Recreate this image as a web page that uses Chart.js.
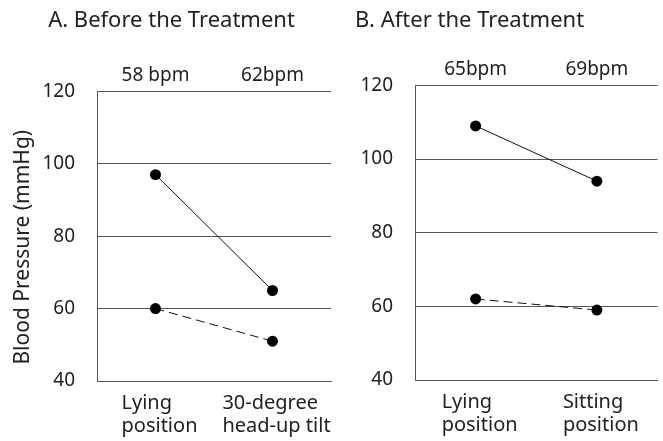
<!DOCTYPE html>
<html><head><meta charset="utf-8">
<script src="https://cdn.jsdelivr.net/npm/chart.js@4"></script>
<style>
html,body{margin:0;padding:0;background:#fff;}
#wrap{position:relative;width:663px;height:441px;overflow:hidden;}
#ca{position:absolute;left:0;top:0;}
#cb{position:absolute;left:355px;top:0;}
</style></head><body>
<div id="wrap">
<canvas id="ca" width="340" height="441" style="width:340px;height:441px"></canvas>
<canvas id="cb" width="308" height="441" style="width:308px;height:441px"></canvas>
</div>
<script>
const categoriesA = [['Lying', 'position'], ['30-degree', 'head-up tilt']];
const heartRateA = ['58 bpm', '62bpm'];
const systolicA = [97, 65];
const diastolicA = [60, 51];

const categoriesB = [['Lying', 'position'], ['Sitting', 'position']];
const heartRateB = ['65bpm', '69bpm'];
const systolicB = [109, 94];
const diastolicB = [62, 59];

const yMin = 40, yMax = 120, yStep = 20;
const yAxisTitle = 'Blood Pressure (mmHg)';

const FONT = '"Noto Sans", sans-serif';
const TXT = '#222';
const GRID = '#555';
const TICK_SIZE = 19;
const CAT_SIZE = 20;

// draws multi-line category labels as left-aligned blocks centred on each category,
// and the rotated y-axis title
const extraText = {
  id: 'extraText',
  afterDraw(chart, args, opts) {
    const sc = chart.scales.x;
    const ctx = chart.ctx;
    ctx.save();
    ctx.font = CAT_SIZE + 'px ' + FONT;
    ctx.fillStyle = TXT;
    ctx.textAlign = 'left';
    ctx.textBaseline = 'top';
    chart.data.labels.forEach((lines, i) => {
      const arr = Array.isArray(lines) ? lines : [lines];
      const w = Math.max(...arr.map(t => ctx.measureText(t).width));
      const x0 = sc.getPixelForTick(i) - w / 2 + 4;
      arr.forEach((t, j) => ctx.fillText(t, x0, sc.top + 12 + j * 23));
    });
    if (opts.yTitle) {
      const ys = chart.scales.y;
      ctx.font = '21px ' + FONT;
      ctx.textAlign = 'center';
      ctx.textBaseline = 'middle';
      ctx.translate(23, (ys.top + ys.bottom) / 2 + 11);
      ctx.rotate(-Math.PI / 2);
      ctx.fillText(opts.yTitle, 0, 0);
    }
    ctx.restore();
  }
};

function makeChart(id, title, cats, hr, sys, dia, cfg) {
  return new Chart(document.getElementById(id), {
    type: 'line',
    data: {
      labels: cats,
      datasets: [
        { data: sys, borderColor: '#111', borderWidth: 1, pointRadius: 5.5, pointBackgroundColor: '#000', pointBorderColor: '#000', pointBorderWidth: 0, pointHoverRadius: 5.5, xAxisID: 'x', yAxisID: 'y' },
        { data: dia, borderColor: '#111', borderWidth: 1, borderDash: [9, 5], pointRadius: 5.5, pointBackgroundColor: '#000', pointBorderColor: '#000', pointBorderWidth: 0, pointHoverRadius: 5.5, xAxisID: 'x', yAxisID: 'y' }
      ]
    },
    plugins: [extraText],
    options: {
      responsive: false,
      animation: false,
      events: [],
      layout: { padding: { left: cfg.left, right: cfg.right, top: 0, bottom: 0 } },
      plugins: {
        legend: { display: false },
        tooltip: { enabled: false },
        extraText: { yTitle: cfg.yTitle },
        title: { display: true, text: title, align: cfg.titleAlign, color: TXT, font: { family: FONT, size: 22, weight: 'normal' }, padding: { top: 8, bottom: 3 } }
      },
      scales: {
        x: {
          type: 'category', position: 'bottom', offset: true,
          grid: { display: false, drawTicks: false },
          border: { display: true, color: GRID, width: 1 },
          ticks: { display: false },
          afterFit: s => { s.height = cfg.bottom; }
        },
        x2: {
          type: 'category', position: 'top', offset: true, labels: hr,
          grid: { display: false, drawTicks: false },
          border: { display: false },
          ticks: { color: TXT, font: { family: FONT, size: TICK_SIZE }, padding: 4, maxRotation: 0, autoSkip: false },
          afterFit: s => { s.height = cfg.topAxis; }
        },
        y: {
          min: yMin, max: yMax,
          grid: { display: true, color: GRID, lineWidth: 1, drawTicks: false },
          border: { display: true, color: GRID, width: 1 },
          ticks: { stepSize: yStep, color: TXT, font: { family: FONT, size: TICK_SIZE }, padding: 22 },
          afterFit: s => { s.width = cfg.yWidth; }
        }
      }
    }
  });
}

makeChart('ca', 'A. Before the Treatment', categoriesA, heartRateA, systolicA, diastolicA,
  { left: 12, right: 9, bottom: 60, topAxis: 54, yWidth: 85, yTitle: yAxisTitle, titleAlign: 'center' });
makeChart('cb', 'B. After the Treatment', categoriesB, heartRateB, systolicB, diastolicB,
  { left: 0, right: 0, bottom: 61, topAxis: 48, yWidth: 60, yTitle: null, titleAlign: 'start' });
</script>
</body></html>
